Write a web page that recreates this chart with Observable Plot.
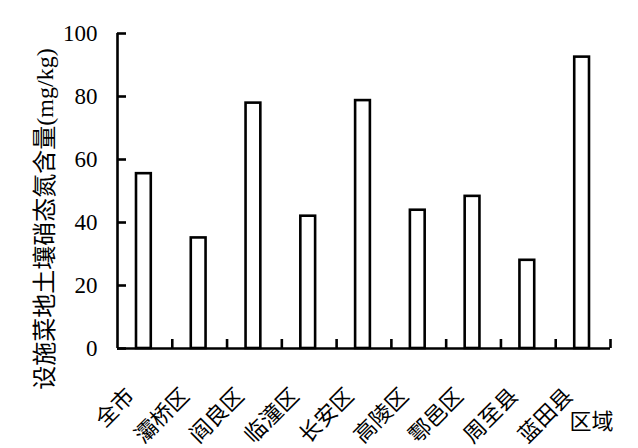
<!DOCTYPE html>
<html>
<head>
<meta charset="utf-8">
<script src="https://cdn.jsdelivr.net/npm/d3@7"></script>
<script src="https://cdn.jsdelivr.net/npm/@observablehq/plot@0.6"></script>
<style>
  html, body { margin: 0; padding: 0; background: #fff; }
  #chart svg { display: block; }
</style>
</head>
<body>
<div id="chart"></div>
<script>
const categories = ["全市", "灞桥区", "阎良区", "临潼区", "长安区", "高陵区", "鄠邑区", "周至县", "蓝田县"];
const values = [55.5, 35.1, 77.9, 42.0, 78.7, 43.9, 48.3, 28.0, 92.5];
const yTicks = [0, 20, 40, 60, 80, 100];
const yTitle = "设施菜地土壤硝态氮含量(mg/kg)";
const xTitle = "区域";

const data = categories.map((c, i) => ({c, i, v: values[i]}));
const boundaries = d3.range(1, categories.length + 1);
const font = "'Times New Roman', 'Liberation Serif', 'Noto Sans CJK SC', serif";

const chart = Plot.plot({
  width: 638,
  height: 448,
  marginLeft: 117,
  marginRight: 28,
  marginTop: 33,
  marginBottom: 100,
  style: {fontFamily: font, background: "#fff", color: "#000"},
  x: {type: "linear", domain: [0, categories.length], axis: null, label: null},
  y: {domain: [0, 100], axis: null, label: null},
  marks: [
    Plot.rectY(data, {
      x1: d => d.i, x2: d => d.i + 1, y: "v",
      fill: "#fff", stroke: "#000", strokeWidth: 2.6,
      insetLeft: 19, insetRight: 21
    }),
    Plot.ruleY([0], {stroke: "#000", strokeWidth: 2.6}),
    Plot.ruleX([0], {y1: 0, y2: 100, stroke: "#000", strokeWidth: 2.6}),
    Plot.axisX({ticks: boundaries, tickSize: -9, tickFormat: () => "", label: null, strokeWidth: 2.6, stroke: "#000"}),
    Plot.axisY({ticks: yTicks, tickSize: -9, tickFormat: () => "", label: null, strokeWidth: 2.6, stroke: "#000"}),
    Plot.axisY({ticks: yTicks, tickSize: 0, tickPadding: 20, label: null, fontSize: 23, fill: "#000", fontFamily: font}),
    Plot.text(data, {
      x: d => d.i + 0.5, y: () => 0, text: "c",
      rotate: -45, textAnchor: "end", dx: -14, dy: 44,
      fontSize: 22, fill: "#000", fontFamily: font
    }),
    Plot.text([yTitle], {
      frameAnchor: "left", text: d => d, rotate: -90, textAnchor: "middle",
      dx: -72, dy: 28, fontSize: 24, fill: "#000", fontFamily: font
    }),
    Plot.text([xTitle], {
      frameAnchor: "bottom-right", text: d => d, textAnchor: "end",
      dx: 3, dy: 80, fontSize: 22, fill: "#000", fontFamily: font
    })
  ]
});
document.getElementById("chart").appendChild(chart);
</script>
</body>
</html>
